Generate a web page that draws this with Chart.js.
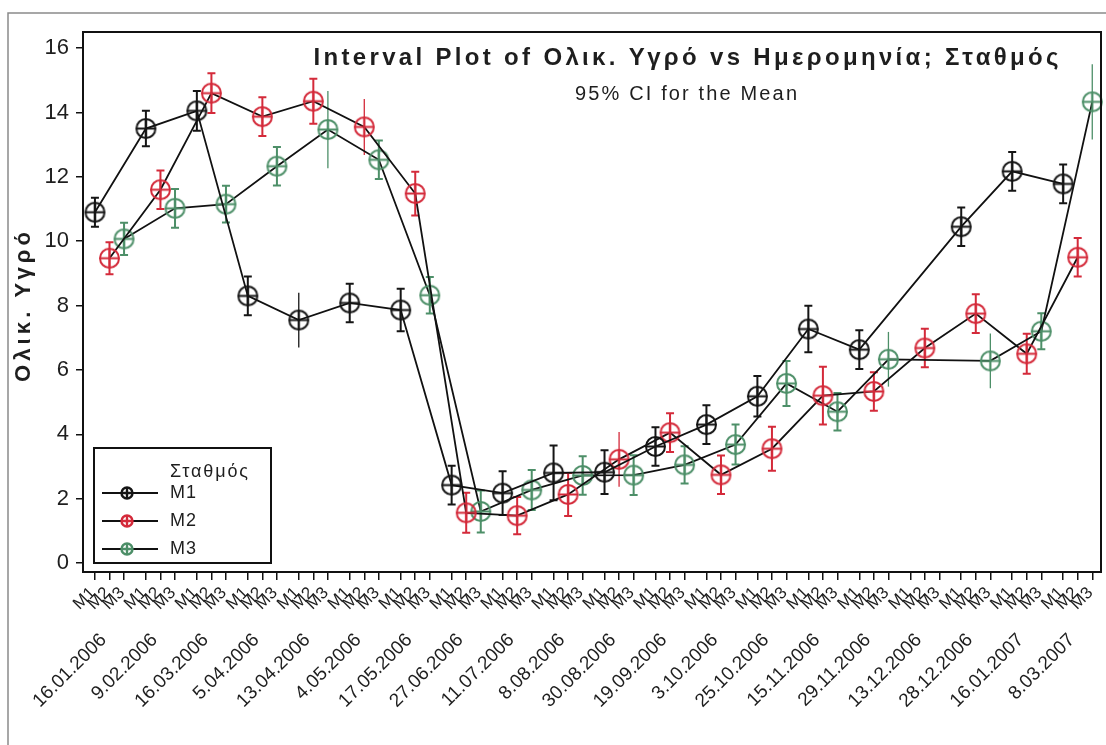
<!DOCTYPE html>
<html>
<head>
<meta charset="utf-8">
<title>Interval Plot</title>
<script src="https://cdn.jsdelivr.net/npm/chart.js@4.4.1/dist/chart.umd.min.js"></script>
<style>
  html, body { margin: 0; padding: 0; background: #fff; }
  canvas { display: block; }
</style>
</head>
<body>
<canvas id="chart" width="1106" height="745"></canvas>
<script>
// sampling dates (one group of three stations per date)
var dates = ["16.01.2006", "9.02.2006", "16.03.2006", "5.04.2006", "13.04.2006",
             "4.05.2006", "17.05.2006", "27.06.2006", "11.07.2006", "8.08.2006",
             "30.08.2006", "19.09.2006", "3.10.2006", "25.10.2006", "15.11.2006",
             "29.11.2006", "13.12.2006", "28.12.2006", "16.01.2007", "8.03.2007"];
var stations = ["M1", "M2", "M3"];

// means and 95% CI half-widths, null = no sample that day
var m1Mean = [10.9, 13.5, 14.05, 8.3, 7.55, 8.08, 7.86, 2.42, 2.17, 2.8,
              2.82, 3.62, 4.3, 5.18, 7.27, 6.63, null, 10.45, 12.17, 11.78];
var m1Ci   = [0.45, 0.55, 0.62, 0.6, 0.85, 0.6, 0.66, 0.6, 0.68, 0.85,
              0.68, 0.6, 0.6, 0.63, 0.72, 0.6, null, 0.6, 0.6, 0.6];
var m2Mean = [9.47, 11.6, 14.6, 13.87, 14.35, 13.55, 11.48, 1.56, 1.47, 2.13,
              3.22, 4.05, 2.74, 3.55, 5.2, 5.33, 6.68, 7.75, 6.5, 9.5];
var m2Ci   = [0.5, 0.6, 0.62, 0.6, 0.7, 0.87, 0.68, 0.62, 0.58, 0.67,
              0.85, 0.6, 0.6, 0.68, 0.9, 0.6, 0.6, 0.6, 0.62, 0.6];
var m3Mean = [10.07, 11.02, 11.15, 12.33, 13.47, 12.53, 8.32, 1.6, 2.27, 2.72,
              2.73, 3.05, 3.68, 5.58, 4.7, 6.33, null, 6.28, 7.2, 14.33];
var m3Ci   = [0.5, 0.6, 0.57, 0.6, 1.2, 0.6, 0.57, 0.65, 0.62, 0.6,
              0.62, 0.58, 0.62, 0.7, 0.58, 0.85, null, 0.85, 0.56, 1.17];

// intervals drawn as a plain line without caps
var m1Open = [4];
var m2Open = [5, 10];
var m3Open = [4, 15, 17, 19];

var yTicks = [0, 2, 4, 6, 8, 10, 12, 14, 16];

var FONT = "'Liberation Sans', Arial, sans-serif";
var GROUP_STEP = 3.5;
var TEXT = "#1e1e1e";

function xPos(g, s) { return g * GROUP_STEP + s; }

// circle with a cross inside, used as point style
function crossCircle(color, r, lw) {
  var size = Math.ceil(2 * r + lw + 2);
  var c = document.createElement("canvas");
  c.width = size; c.height = size;
  var g = c.getContext("2d");
  var m = size / 2;
  g.strokeStyle = color;
  g.lineWidth = lw;
  g.beginPath(); g.arc(m, m, r, 0, Math.PI * 2); g.stroke();
  g.beginPath();
  g.moveTo(m - r, m); g.lineTo(m + r, m);
  g.moveTo(m, m - r); g.lineTo(m, m + r);
  g.stroke();
  return c;
}

function buildSeries(s, color, means, ci, open) {
  var pts = [];
  means.forEach(function (v, g) {
    if (v === null) return;
    pts.push({ x: xPos(g, s), y: v, lo: v - ci[g], hi: v + ci[g], open: open.indexOf(g) >= 0 });
  });
  return {
    label: stations[s],
    data: pts,
    borderColor: "#111",
    borderWidth: 1.8,
    pointStyle: crossCircle(color, 9.5, 2),
    pointRadius: 10,
    markColor: color,
    legendMark: crossCircle(color, 5.5, 2.4),
    tension: 0,
    clip: false
  };
}

var subTicks = [];
var groupTicks = [];
dates.forEach(function (d, g) {
  groupTicks.push(xPos(g, 1));
  stations.forEach(function (st, s) { subTicks.push(xPos(g, s)); });
});

var X_MIN = -0.82, X_MAX = xPos(dates.length - 1, 2) + 0.6;

// spread text so it spans a given width (wide Minitab-style lettering)
function spreadText(ctx, text, x, y, width) {
  ctx.letterSpacing = "0px";
  var w = ctx.measureText(text).width;
  var sp = Math.max(0, (width - w) / (text.length - 1));
  ctx.letterSpacing = sp + "px";
  var dx = ctx.textAlign === "center" ? sp / 2 : 0;
  ctx.fillText(text, x + dx, y);
  ctx.letterSpacing = "0px";
}

var intervalBars = {
  id: "intervalBars",
  beforeDatasetsDraw: function (chart) {
    var ctx = chart.ctx, xs = chart.scales.x, ys = chart.scales.y;
    chart.data.datasets.forEach(function (ds) {
      ds.data.forEach(function (p) {
        var px = xs.getPixelForValue(p.x);
        var top = ys.getPixelForValue(p.hi), bot = ys.getPixelForValue(p.lo);
        ctx.save();
        ctx.strokeStyle = ds.markColor;
        ctx.lineWidth = p.open ? 1.3 : 2;
        ctx.beginPath();
        ctx.moveTo(px, top); ctx.lineTo(px, bot);
        if (!p.open) {
          ctx.moveTo(px - 4, top); ctx.lineTo(px + 4, top);
          ctx.moveTo(px - 4, bot); ctx.lineTo(px + 4, bot);
        }
        ctx.stroke();
        ctx.restore();
      });
    });
  }
};

var decorations = {
  id: "decorations",
  beforeDraw: function (chart) {
    var ctx = chart.ctx;
    ctx.save();
    ctx.strokeStyle = "#8a8a8a";
    ctx.lineWidth = 1.5;
    ctx.beginPath();
    ctx.moveTo(8, chart.height); ctx.lineTo(8, 13); ctx.lineTo(chart.width, 13);
    ctx.stroke();
    ctx.restore();
  },
  afterDraw: function (chart) {
    var ctx = chart.ctx, ca = chart.chartArea;
    ctx.save();
    // plot frame
    ctx.strokeStyle = "#111";
    ctx.lineWidth = 2;
    ctx.strokeRect(ca.left, ca.top, ca.right - ca.left, ca.bottom - ca.top);

    // title and subtitle
    var cx = ca.left + 603;
    ctx.fillStyle = TEXT;
    ctx.textAlign = "center";
    ctx.textBaseline = "middle";
    ctx.font = "bold 24px " + FONT;
    spreadText(ctx, "Interval Plot of Ολικ. Υγρό vs Ημερομηνία; Σταθμός", cx, ca.top + 26, 745);
    ctx.font = "20px " + FONT;
    spreadText(ctx, "95% CI for the Mean", cx, ca.top + 62, 222);

    // y axis title
    ctx.save();
    ctx.translate(24, (ca.top + ca.bottom) / 2 + 5);
    ctx.rotate(-Math.PI / 2);
    ctx.font = "bold 22px " + FONT;
    spreadText(ctx, "Ολικ. Υγρό", 0, 0, 150);
    ctx.restore();

    // legend box
    var x0 = ca.left + 11, y0 = ca.bottom - 124, w = 177, h = 115;
    ctx.fillStyle = "#fff";
    ctx.fillRect(x0, y0, w, h);
    ctx.strokeStyle = "#111";
    ctx.lineWidth = 2;
    ctx.strokeRect(x0, y0, w, h);
    ctx.fillStyle = TEXT;
    ctx.textAlign = "left";
    ctx.font = "18px " + FONT;
    spreadText(ctx, "Σταθμός", x0 + 76, y0 + 24, 78);
    chart.data.datasets.forEach(function (ds, i) {
      var ry = y0 + 45 + i * 28;
      ctx.strokeStyle = "#111";
      ctx.lineWidth = 1.8;
      ctx.beginPath();
      ctx.moveTo(x0 + 8, ry); ctx.lineTo(x0 + 64, ry);
      ctx.stroke();
      var mk = ds.legendMark;
      ctx.drawImage(mk, x0 + 33 - mk.width / 2, ry - mk.height / 2);
      ctx.fillStyle = TEXT;
      spreadText(ctx, ds.label, x0 + 76, ry, 26);
    });
    ctx.restore();
  }
};

function fixHeight(scale, h) {
  scale.height = h;
  scale.paddingLeft = 0;
  scale.paddingRight = 0;
}

var ctx = document.getElementById("chart");
var chart = new Chart(ctx, {
  type: "line",
  data: {
    datasets: [
      buildSeries(0, "#151515", m1Mean, m1Ci, m1Open),
      buildSeries(1, "#d42a3a", m2Mean, m2Ci, m2Open),
      buildSeries(2, "#4d8f68", m3Mean, m3Ci, m3Open)
    ]
  },
  options: {
    responsive: false,
    animation: false,
    devicePixelRatio: 1,
    layout: { autoPadding: false, padding: { left: 0, right: 5, top: 32, bottom: 0 } },
    plugins: {
      legend: { display: false },
      tooltip: { enabled: false }
    },
    scales: {
      x: {
        type: "linear",
        position: "bottom",
        weight: 0,
        min: X_MIN,
        max: X_MAX,
        afterBuildTicks: function (scale) {
          scale.ticks = subTicks.map(function (v) { return { value: v }; });
        },
        afterFit: function (scale) { fixHeight(scale, 45); },
        ticks: {
          autoSkip: false,
          minRotation: 45,
          maxRotation: 45,
          padding: 3,
          labelOffset: -2,
          color: TEXT,
          font: { family: FONT, size: 17 },
          callback: function (v, i) { return stations[i % 3]; }
        },
        grid: { drawOnChartArea: false, drawTicks: true, tickLength: 8, color: "#111", lineWidth: 1.5 },
        border: { display: false }
      },
      x2: {
        type: "linear",
        position: "bottom",
        weight: 1,
        min: X_MIN,
        max: X_MAX,
        afterBuildTicks: function (scale) {
          scale.ticks = groupTicks.map(function (v) { return { value: v }; });
        },
        afterFit: function (scale) { fixHeight(scale, 128); },
        ticks: {
          autoSkip: false,
          minRotation: 45,
          maxRotation: 45,
          padding: 12,
          labelOffset: -6,
          color: TEXT,
          font: { family: FONT, size: 19 },
          callback: function (v, i) { return dates[i]; }
        },
        grid: { display: false, drawTicks: false },
        border: { display: false }
      },
      y: {
        min: -0.28,
        max: 16.5,
        afterBuildTicks: function (scale) {
          scale.ticks = yTicks.map(function (v) { return { value: v }; });
        },
        afterFit: function (scale) { scale.width = 83; },
        ticks: {
          padding: 7,
          color: TEXT,
          font: { family: FONT, size: 22 }
        },
        grid: { drawOnChartArea: false, drawTicks: true, tickLength: 7, color: "#111", lineWidth: 1.5 },
        border: { display: false }
      }
    }
  },
  plugins: [intervalBars, decorations]
});
</script>
</body>
</html>
